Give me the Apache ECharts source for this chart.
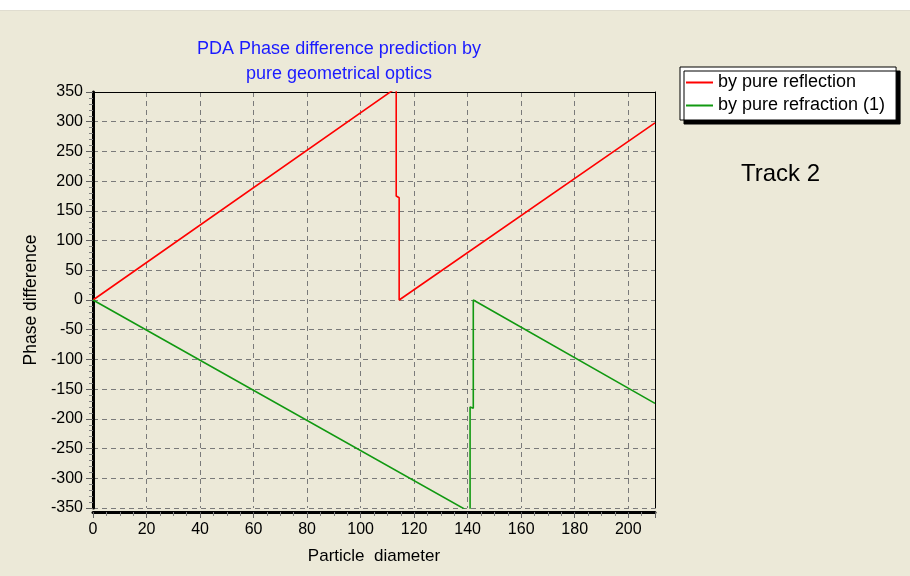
<!DOCTYPE html>
<html>
<head>
<meta charset="utf-8">
<script src="https://cdn.jsdelivr.net/npm/echarts@6/dist/echarts.min.js"></script>
<style>
html,body{margin:0;padding:0;background:#ECE9D8;}
#chart{width:910px;height:576px;}
</style>
</head>
<body>
<div id="chart"></div>
<script>
// values
var reflectionX = [0, 113.3, 113.3, 114.4, 114.4, 210];
var reflectionY = [0, 357, 175, 172, 0, 298];
var refractionX = [0, 140.9, 140.9, 142.1, 142.1, 210];
var refractionY = [0, -357, -180, -182, 0, -174];
var seriesNames = ['by pure reflection', 'by pure refraction (1)'];

function pairs(xs, ys){
    var out = [];
    for (var i = 0; i < xs.length; i++) out.push([xs[i], ys[i]]);
    return out;
}

var myChart = echarts.init(document.getElementById('chart'));
var font = 'Liberation Sans, Arial, sans-serif';
var gridDash = {color:'#7a7a7a', type:[5,4], width:1};

option = {
    backgroundColor: '#ECE9D8',
    animation: false,
    title: {
        text: 'PDA Phase difference prediction by\npure geometrical optics',
        left: 334,
        top: 32,
        textAlign: 'center',
        textStyle: {color:'#1a1aff', fontSize:18, fontWeight:'normal', fontFamily:font, lineHeight:25}
    },
    legend: {
        data: seriesNames,
        orient: 'vertical',
        left: 680,
        top: 67,
        padding: [5, 11, 4, 6],
        itemGap: 2,
        itemWidth: 27,
        itemHeight: 2,
        icon: 'rect',
        backgroundColor: '#fff',
        borderColor: '#000',
        borderWidth: 1,
        borderRadius: 0,
        shadowColor: '#000',
        shadowBlur: 0,
        shadowOffsetX: 4,
        shadowOffsetY: 4,
        textStyle: {color:'#000', fontSize:18, fontFamily:font, lineHeight:21, padding:[0,0,0,0]}
    },
    graphic: [
        {type:'rect', shape:{x:0, y:0, width:910, height:10}, style:{fill:'#fff'}, silent:true},
        {type:'rect', shape:{x:0, y:10, width:910, height:1}, style:{fill:'#e0ddd0'}, silent:true},
        {type:'text', left:741, top:162, style:{text:'Track 2', fill:'#000', font:'24px ' + font}}
    ],
    grid: {left:93, right:255, top:92, bottom:68},
    xAxis: [{
        type: 'value',
        min: 0, max: 210, interval: 20,
        offset: 4,
        name: 'Particle  diameter',
        nameLocation: 'middle',
        nameGap: 36,
        nameTextStyle: {color:'#000', fontSize:17, fontFamily:font},
        axisLine: {show:true, onZero:false, lineStyle:{color:'#000', width:3}},
        axisTick: {show:true, length:6, lineStyle:{color:'#606060'}},
        minorTick: {show:true, splitNumber:4, length:4, lineStyle:{color:'#808080'}},
        axisLabel: {color:'#000', fontSize:16, fontFamily:font, margin:10, showMaxLabel:false},
        splitLine: {show:true, lineStyle:gridDash}
    }, {
        type: 'value',
        position: 'top',
        min: 0, max: 210, interval: 20,
        axisLine: {show:true, onZero:false, lineStyle:{color:'#000', width:1}},
        axisTick: {show:false},
        axisLabel: {show:false},
        splitLine: {show:false}
    }],
    yAxis: [{
        type: 'value',
        min: -350, max: 350, interval: 50,
        name: 'Phase difference',
        nameLocation: 'middle',
        nameGap: 53,
        nameRotate: 90,
        nameTextStyle: {color:'#000', fontSize:17.5, fontFamily:font},
        axisLine: {show:true, onZero:false, lineStyle:{color:'#000', width:3}},
        axisTick: {show:true, length:7, lineStyle:{color:'#606060'}},
        minorTick: {show:true, splitNumber:5, length:4, lineStyle:{color:'#808080'}},
        axisLabel: {color:'#000', fontSize:16, fontFamily:font, margin:10},
        splitLine: {show:true, lineStyle:gridDash}
    }, {
        type: 'value',
        position: 'right',
        min: -350, max: 350, interval: 50,
        axisLine: {show:true, onZero:false, lineStyle:{color:'#000', width:1}},
        axisTick: {show:false},
        axisLabel: {show:false},
        splitLine: {show:false}
    }],
    series: [{
        name: seriesNames[0],
        type: 'line',
        data: pairs(reflectionX, reflectionY),
        showSymbol: false,
        symbol: 'none',
        itemStyle: {color:'#ff0000'},
        lineStyle: {color:'#ff0000', width:1.6},
        z: 5
    }, {
        name: seriesNames[1],
        type: 'line',
        data: pairs(refractionX, refractionY),
        showSymbol: false,
        symbol: 'none',
        itemStyle: {color:'#119911'},
        lineStyle: {color:'#119911', width:1.6},
        z: 5
    }]
};

myChart.setOption(option);
window.onresize = myChart.resize;
</script>
</body>
</html>
